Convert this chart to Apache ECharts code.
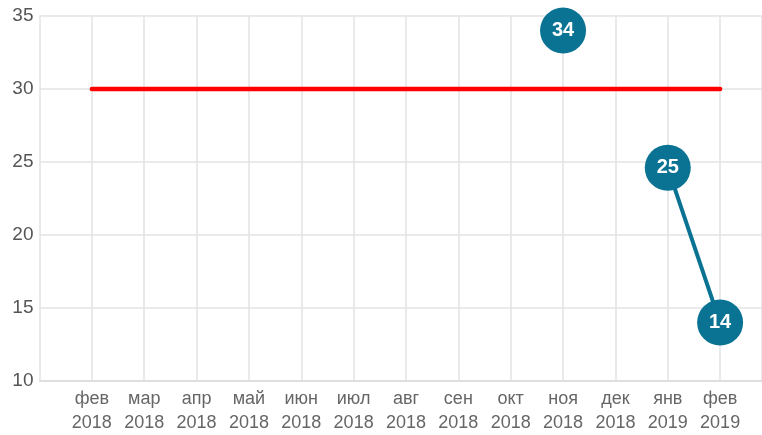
<!DOCTYPE html>
<html><head><meta charset="utf-8">
<script src="https://cdn.jsdelivr.net/npm/echarts@6/dist/echarts.min.js"></script>
<style>html,body{margin:0;padding:0;background:#fff}#c{width:762px;height:435px}</style>
</head><body><div id="c"></div>
<script>
var categories = ['фев 2018','мар 2018','апр 2018','май 2018','июн 2018','июл 2018','авг 2018','сен 2018','окт 2018','ноя 2018','дек 2018','янв 2019','фев 2019'];
var targetValues = [30,30,30,30,30,30,30,30,30,30,30,30,30];
var actualValues = [null,null,null,null,null,null,null,null,null,34,null,24.6,14];
var yTicks = [10,15,20,25,30,35];

function pairs(arr){ return arr.map(function(v,i){ return [i, v]; }); }

var chart = echarts.init(document.getElementById('c'), null, {renderer:'canvas'});
chart.setOption({
  animation:false,
  grid:{left:39.5, right:0, top:16, bottom:53},
  xAxis:{
    type:'value', min:-1, max:12.8, interval:1,
    axisLine:{show:true, lineStyle:{color:'#dcdcdc', width:1.5}},
    axisTick:{show:false},
    splitLine:{show:true, lineStyle:{color:'#e3e3e3', width:1.5}},
    axisLabel:{
      color:'#666', fontSize:18, fontFamily:'Arial, Liberation Sans, sans-serif',
      lineHeight:24, margin:6, showMaxLabel:false,
      formatter:function(v){
        if (v < 0 || Math.round(v) !== v || !categories[v]) return '';
        return categories[v].replace(' ', '\n');
      }
    }
  },
  yAxis:{
    type:'value', min:yTicks[0], max:yTicks[yTicks.length-1], interval:5,
    axisLine:{show:false},
    axisTick:{show:false},
    splitLine:{show:true, lineStyle:{color:'#e3e3e3', width:1.5}},
    axisLabel:{color:'#555', fontSize:19, fontFamily:'Arial, Liberation Sans, sans-serif', margin:6}
  },
  series:[
    {
      type:'line', data:pairs(targetValues), symbol:'none',
      lineStyle:{color:'#ff0000', width:4.5, cap:'round'},
      z:2
    },
    {
      type:'line', data:pairs(actualValues), connectNulls:false,
      symbol:'circle', symbolSize:46,
      itemStyle:{color:'#0a7393'},
      lineStyle:{color:'#0a7393', width:4},
      label:{show:true, position:'inside', color:'#fff', fontSize:20, fontWeight:'bold',
        fontFamily:'Arial, Liberation Sans, sans-serif',
        formatter:function(p){ return Math.round(p.value[1]); }},
      z:3
    }
  ]
});
</script></body></html>
